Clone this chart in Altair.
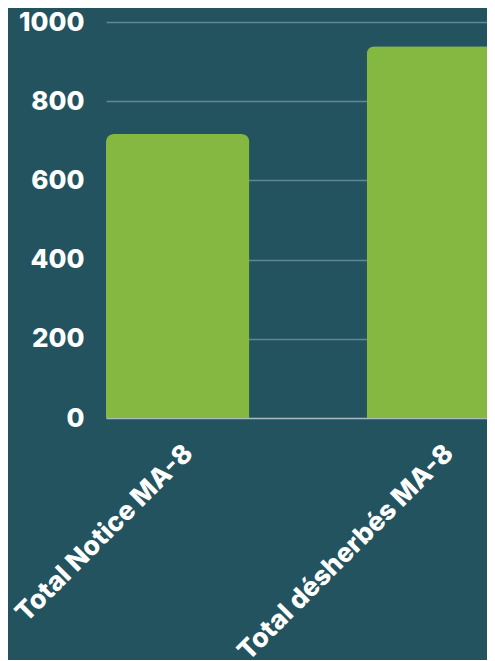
import altair as alt
import pandas as pd

categories = ["Total Notice MA-8", "Total désherbés MA-8"]
values = [717, 939]

df = pd.DataFrame({"cat": categories, "val": values})

BG = "#23535f"
FONT = "Inter"

chart = alt.Chart(df).mark_bar(
    color="#84b840", cornerRadiusTopLeft=8, cornerRadiusTopRight=8
).encode(
    x=alt.X("cat:N", sort=categories, title=None,
            scale=alt.Scale(range=[0, 404], paddingInner=0.45, paddingOuter=0),
            axis=alt.Axis(labelAngle=-45, labelAlign="right", labelBaseline="middle",
                          labelFont=FONT, labelFontWeight=800, labelFontSize=26.5,
                          labelColor="white", labelPadding=31, labelLimit=400,
                          labelOffset=11,
                          ticks=False, domain=False, grid=False)),
    y=alt.Y("val:Q", title=None,
            scale=alt.Scale(domain=[0, 1000], nice=False),
            axis=alt.Axis(values=[0, 200, 400, 600, 800, 1000], format="d",
                          labelFont=FONT, labelFontWeight=800, labelFontSize=26,
                          labelColor="white", labelPadding=22, ticks=False,
                          domain=False, grid=True, gridWidth=1.5,
                          gridColor={"condition": {"test": "datum.value === 0",
                                                   "value": "#a9bac2"},
                                     "value": "#5f8796"})),
).properties(
    width=381, height=396,
    autosize=alt.AutoSizeParams(type="none"),
    padding={"left": 98, "top": 14, "right": 0, "bottom": 242},
    background=BG,
).configure_view(stroke=None)

chart.save("out.html", embed_options={"renderer": "svg", "actions": False})
